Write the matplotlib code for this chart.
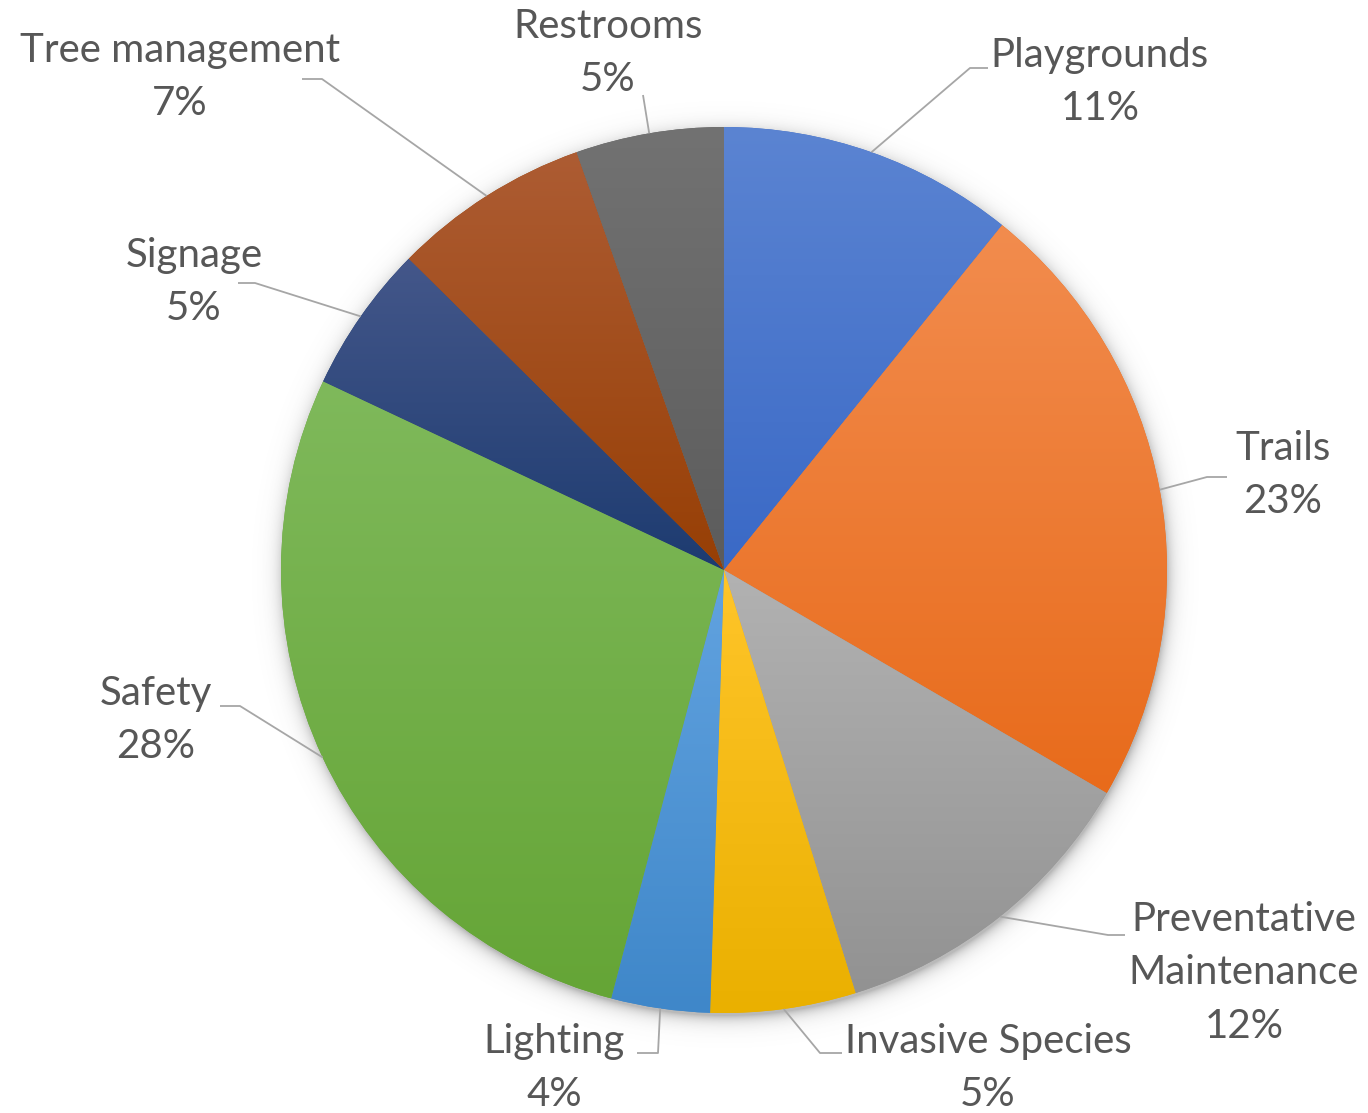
import numpy as np
import matplotlib
matplotlib.use("Agg")
import matplotlib.pyplot as plt
from matplotlib.colors import LinearSegmentedColormap, to_rgb

# ---- data ----
categories = ["Playgrounds", "Trails", "Preventative\nMaintenance", "Invasive Species",
              "Lighting", "Safety", "Signage", "Tree management", "Restrooms"]
shares = [10.8, 22.6, 11.8, 5.3, 3.6, 27.9, 5.4, 7.2, 5.4]
top_colors = ["#5B84D2", "#F28C4E", "#B2B2B2", "#FFC52A", "#62A3E0", "#7FB95B", "#44578A", "#AD5C33", "#727272"]
bottom_colors = ["#3A69C6", "#E86B1B", "#929292", "#EAB000", "#3F87C9", "#65A536", "#1D3B70", "#973F05", "#5C5C5C"]

# ---- layout ----
W, H = 1368, 1113
fig = plt.figure(figsize=(W / 100, H / 100), dpi=100)
ax = fig.add_axes([0, 0, 1, 1])
cx, cy, R = 724, H - 570, 443

plt.rcParams['font.family'] = ['Lato', 'DejaVu Sans']

# soft shadow
yy, xx = np.mgrid[0:H, 0:W]
d = np.hypot(xx - (cx + 1), (H - yy) - (cy - 4))
alpha = np.where(d > R - 2, 0.42 * np.exp(-np.clip(d - R + 2, 0, None) / 7.0), 0.42)
shadow = np.zeros((H, W, 4))
shadow[..., :3] = 0.35
shadow[..., 3] = alpha
ax.imshow(shadow, extent=[0, W, 0, H], origin='upper', zorder=0, interpolation='bilinear')

wedges, _ = ax.pie(shares, startangle=90, counterclock=False, radius=R, center=(cx, cy),
                   colors=bottom_colors, wedgeprops=dict(linewidth=0))
for w, ct, cb in zip(wedges, top_colors, bottom_colors):
    w.set_zorder(1)
    ext = w.get_path().get_extents()
    cmap = LinearSegmentedColormap.from_list("g", [to_rgb(cb), to_rgb(ct)])
    grad = np.linspace(0, 1, 256).reshape(-1, 1)
    im = ax.imshow(grad, cmap=cmap, extent=[ext.x0, ext.x1, ext.y0, ext.y1], origin='lower',
                   aspect='auto', zorder=2, interpolation='bilinear')
    im.set_clip_path(w)

# label block centres (pixels from top) and leader elbows
label_pos = [(1100, 82), (1283, 475), (1244, 973), (988, 1068), (554, 1068),
             (156, 720), (194, 282), (180, 77), (608, 53)]
elbows = [[(970, 68), (988, 68)], [(1207, 477), (1227, 477)], [(1108, 935), (1125, 935)],
          [(820, 1053), (842, 1053)], [(658, 1053), (637, 1053)], [(240, 706), (220, 706)],
          [(255, 283), (238, 283)], [(322, 79), (302, 79)], [(643, 95), (643, 95)]]

total = sum(shares)
cum = 0
for i, (name, s) in enumerate(zip(categories, shares)):
    mid = cum + s / 2
    cum += s
    ang = np.deg2rad(90 - mid / total * 360)
    sx, sy = cx + R * np.cos(ang), cy + R * np.sin(ang)
    pts = [(sx, sy)] + [(ex, H - ey) for ex, ey in elbows[i]]
    xs, ys = zip(*pts)
    ax.plot(xs, ys, color="#A6A6A6", lw=1.3, zorder=3, solid_capstyle='butt')
    lx, ly = label_pos[i]
    ax.text(lx, H - ly, f"{name}\n{round(s)}%", ha='center', va='center', multialignment='center',
            fontsize=29, color="#575757", linespacing=1.56, zorder=4)

ax.set_xlim(0, W)
ax.set_ylim(0, H)
ax.set_aspect('equal')
ax.axis('off')
fig.savefig("out.png", dpi=100)
